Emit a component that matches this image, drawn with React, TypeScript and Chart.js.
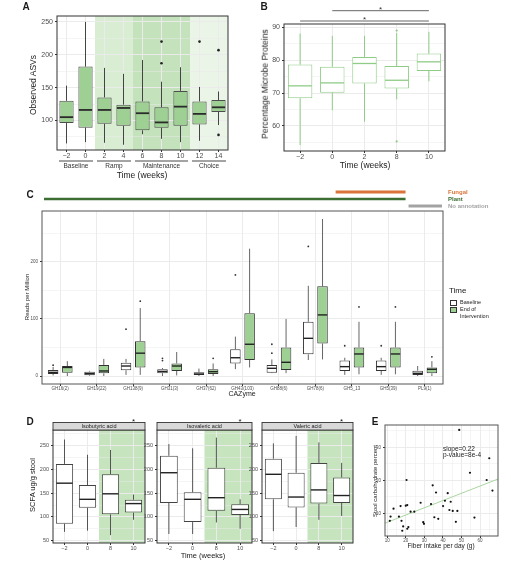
import React, { useEffect, useRef } from 'react';
import { Chart, registerables } from 'chart.js';
Chart.register(...registerables);

const FONT = "'Liberation Sans', 'DejaVu Sans', Arial, sans-serif";

// ---------------- Panel A: Observed ASVs ----------------
const weeksA = ['−2', '0', '2', '4', '6', '8', '10', '12', '14'];
const asvMin = [65, 67, 66, 63, 79, 72, 67, 69, 93];
const asvQ1 = [96, 89, 95, 92, 85, 89, 92, 94, 113];
const asvMed = [105, 116, 116, 119, 111, 97, 121, 110, 120];
const asvQ3 = [130, 182, 135, 124, 129, 120, 145, 129, 131];
const asvMax = [153, 250, 180, 171, 192, 159, 181, 151, 144];
const asvOut = [[], [], [], [], [], [220, 187], [], [220], [207, 78]];
const asvTicks = [75, 100, 125, 150, 175, 200, 225, 250];
const phaseNames = ['Baseline', 'Ramp', 'Maintenance', 'Choice'];
const phaseStart = [0, 2, 4, 7];
const phaseEnd = [1, 3, 6, 8];
const phaseFill = ['rgba(0,0,0,0)', '#d9edd3', '#c4e2bc', '#eaf5e7'];

// ---------------- Panel B: Percentage microbe proteins ----------------
const weeksB = ['−2', '0', '2', '8', '10'];
const protMin = [54.2, 64.8, 61.3, 68.1, 73.6];
const protQ1 = [68.4, 70.1, 72.9, 71.4, 76.7];
const protMed = [72.2, 73.1, 79.0, 73.9, 79.5];
const protQ3 = [78.7, 78.0, 81.0, 78.2, 82.0];
const protMax = [88.1, 87.4, 87.4, 88.3, 88.6];
const protOut = [[], [], [], [89.0, 55.3], []];
const protTicks = [55, 60, 65, 70, 75, 80, 85, 90];
const sigFrom = [1, 0];
const sigTo = [4, 4];

// ---------------- Panel C: CAZymes ----------------
const cazymes = ['GH16(2)', 'GH19(22)', 'GH138(9)', 'GH31(3)', 'GH37(62)', 'GH43(103)', 'GH88(6)', 'GH78(6)', 'GH5_13', 'GH5(39)', 'PL9(1)'];
const baseMin = [1, 0, 2, 0, 0, 12, 5, 28, 2, 2, 0];
const baseQ1 = [3.5, 1.2, 10, 5, 1.7, 22, 5.8, 38, 8.8, 8.8, 1.8];
const baseMed = [6.4, 4, 17.5, 8, 3.5, 32, 13.5, 66, 16.4, 16.4, 4.7];
const baseQ3 = [10.5, 7.6, 23.4, 12, 6.4, 47, 19.3, 95, 27, 27, 9.4];
const baseMax = [16, 9, 30, 14, 13, 69, 29, 158, 32, 32, 17.5];
const baseOut = [[19], [], [82], [31, 27], [], [177], [55.6, 40], [227], [53], [53], []];
const endMin = [0, 0, 2, 1, 0, 15, 5, 29, 3, 3, 0];
const endQ1 = [5.8, 4.7, 15, 8.8, 3.5, 28, 10.5, 57, 15, 15, 4.7];
const endMed = [15, 8.8, 40, 17.5, 7.6, 55.6, 24, 107, 38.6, 38.6, 11.7];
const endQ3 = [17.5, 19.3, 61, 22, 11.7, 110, 50, 157, 50, 50, 15];
const endMax = [26, 30, 119, 42, 22, 223, 100, 275, 95, 95, 26];
const endOut = [[], [], [131], [], [31], [], [], [], [121], [121], [33.6]];
const readTicks = [0, 50, 100, 150, 200, 250];
const annotNames = ['Fungal', 'Plant', 'No annotation'];
const annotStart = [8, 0, 10];
const annotEnd = [9, 9, 10];
const annotColor = ['#d9753a', '#3c6e33', '#a3a3a3'];

// ---------------- Panel D: SCFA ----------------
const scfaWeeks = ['−2', '0', '8', '10'];
const acidNames = ['Isobutyric acid', 'Isovaleric acid', 'Valeric acid'];
const isobutMin = [68.5, 71, 61.6, 94];
const isobutQ1 = [85.6, 119, 105.5, 109];
const isobutMed = [171, 137, 148.6, 128];
const isobutQ3 = [211.6, 167, 189.7, 136];
const isobutMax = [263, 230.8, 241, 147];
const isovalMin = [64, 64, 88.3, 75];
const isovalQ1 = [129.4, 89, 113, 104];
const isovalMed = [193, 137, 140.4, 115.7];
const isovalQ3 = [228.8, 152, 203.4, 126.7];
const isovalMax = [253.4, 244.5, 267, 137];
const valerMin = [70, 78.7, 93.8, 102];
const valerQ1 = [137, 120, 128, 129.4];
const valerMed = [189.7, 141.8, 156.8, 145];
const valerQ3 = [222.6, 193, 213.7, 183];
const valerMax = [254.8, 270.6, 256.9, 213.7];
const scfaTicks = [50, 75, 100, 125, 150, 175, 200, 225, 250, 275];
const scfaStar = ['*', '*', '*'];

// ---------------- Panel E: fiber vs stool carbohydrate ----------------
const fiberIntake = [48.8, 20.4, 54.6, 65, 63.6, 66.7, 34.5, 36.3, 42.6, 41.1, 44.2, 40.1, 33.6, 28, 13.4, 17.2, 20.8, 20, 22.6, 24.6, 11.8, 11.4, 16.3, 17.7, 18.6, 18.1, 20.8, 21.4, 29.4, 29.8, 35.4, 37.5, 43.5, 45.3, 47.8, 47, 57];
const stoolCarb = [35.3, 20.1, 22.3, 26.7, 20.1, 16.9, 18.5, 16.3, 16.1, 13.8, 13.5, 12.2, 12.8, 13.2, 11.4, 12.2, 12.5, 12.3, 10.5, 10.5, 9, 7.7, 9, 7.7, 6, 4.7, 5.3, 5.8, 7.3, 6.8, 8.8, 8.3, 11, 10.7, 10.7, 7.4, 8.7];
const fitX = [8.8, 69.7];
const fitY = [7.0, 20.4];
const carbTicks = [5, 10, 15, 20, 25, 30, 35];
const fiberTicks = [10, 15, 20, 25, 30, 35, 40, 45, 50, 55, 60, 65];

// ---------------- styles ----------------
const GREEN = '#9dd092';
const GRID = '#ebebeb';
const TICKC = '#4d4d4d';

function yLin(min: number, max: number, ticks: number[], isMajor: (v: number) => boolean, width: number, fs: number) {
  return {
    type: 'linear', position: 'left', min, max,
    afterBuildTicks: (s: any) => { s.ticks = ticks.map((v) => ({ value: v })); },
    afterFit: (s: any) => { s.width = width; s.paddingTop = 0; s.paddingBottom = 0; },
    ticks: { autoSkip: false, padding: 2, color: TICKC, font: { family: FONT, size: fs }, callback: (v: any) => (isMajor(Number(v)) ? String(v) : '') },
    grid: {
      color: GRID,
      lineWidth: (c: any) => (c.tick && !isMajor(c.tick.value) ? 0.5 : 1),
      tickLength: 2,
      tickColor: (c: any) => (c.tick && !isMajor(c.tick.value) ? 'rgba(0,0,0,0)' : '#333'),
    },
    border: { display: false },
  };
}

function xLin(min: number, max: number, ticks: number[], isMajor: (v: number) => boolean, height: number, fs: number) {
  return {
    type: 'linear', position: 'bottom', min, max,
    afterBuildTicks: (s: any) => { s.ticks = ticks.map((v) => ({ value: v })); },
    afterFit: (s: any) => { s.height = height; s.paddingLeft = 0; s.paddingRight = 0; },
    ticks: { autoSkip: false, maxRotation: 0, minRotation: 0, padding: 0, color: TICKC, font: { family: FONT, size: fs }, callback: (v: any) => (isMajor(Number(v)) ? String(v) : '') },
    grid: {
      color: GRID,
      lineWidth: (c: any) => (c.tick && !isMajor(c.tick.value) ? 0.5 : 1),
      tickLength: 2,
      tickColor: (c: any) => (c.tick && !isMajor(c.tick.value) ? 'rgba(0,0,0,0)' : '#333'),
    },
    border: { display: false },
  };
}

function xCat(height: number, fs: number) {
  return {
    type: 'category', offset: true,
    afterFit: (s: any) => { s.height = height; s.paddingLeft = 0; s.paddingRight = 0; },
    ticks: { autoSkip: false, maxRotation: 0, minRotation: 0, padding: 0, color: TICKC, font: { family: FONT, size: fs } },
    grid: { offset: false, color: GRID, lineWidth: 1, tickLength: 2, tickColor: '#333' },
    border: { display: false },
  };
}

function baseOptions(padding: any, x: any, y: any) {
  return {
    responsive: false,
    animation: false,
    events: [],
    layout: { padding },
    plugins: { legend: { display: false }, tooltip: { enabled: false } },
    scales: { x, y },
  };
}

type BoxSet = {
  ds: number; min: number[]; q1: number[]; med: number[]; q3: number[]; max: number[]; out: number[][];
  line: string; lw: number; medColor: string; medW: number; outColor: string; outR: number;
};

function whiskerPlugin(sets: BoxSet[]) {
  return {
    id: 'whiskers',
    afterDatasetsDraw(chart: any) {
      const ys = chart.scales.y;
      const ctx = chart.ctx;
      ctx.save();
      for (const s of sets) {
        const meta = chart.getDatasetMeta(s.ds);
        meta.data.forEach((el: any, i: number) => {
          const x = el.x;
          const w = el.width;
          ctx.strokeStyle = s.line;
          ctx.lineWidth = s.lw;
          ctx.beginPath();
          ctx.moveTo(x, ys.getPixelForValue(s.q3[i]));
          ctx.lineTo(x, ys.getPixelForValue(s.max[i]));
          ctx.moveTo(x, ys.getPixelForValue(s.q1[i]));
          ctx.lineTo(x, ys.getPixelForValue(s.min[i]));
          ctx.stroke();
          const ym = ys.getPixelForValue(s.med[i]);
          ctx.strokeStyle = s.medColor;
          ctx.lineWidth = s.medW;
          ctx.beginPath();
          ctx.moveTo(x - w / 2 + 0.5, ym);
          ctx.lineTo(x + w / 2 - 0.5, ym);
          ctx.stroke();
          ctx.fillStyle = s.outColor;
          for (const v of s.out[i] || []) {
            ctx.beginPath();
            ctx.arc(x, ys.getPixelForValue(v), s.outR, 0, Math.PI * 2);
            ctx.fill();
          }
        });
      }
      ctx.restore();
    },
  };
}

function framePlugin(color = '#333', width = 1) {
  return {
    id: 'frame',
    afterDraw(chart: any) {
      const { left, top, right, bottom } = chart.chartArea;
      const ctx = chart.ctx;
      ctx.save();
      ctx.strokeStyle = color;
      ctx.lineWidth = width;
      ctx.strokeRect(left, top, right - left, bottom - top);
      ctx.restore();
    },
  };
}

function bandPlugin(starts: number[], ends: number[], fills: string[]) {
  return {
    id: 'bands',
    beforeDraw(chart: any) {
      const xs = chart.scales.x;
      const { top, bottom } = chart.chartArea;
      const ctx = chart.ctx;
      ctx.save();
      starts.forEach((s, k) => {
        const x1 = xs.getPixelForValue(s - 0.5);
        const x2 = xs.getPixelForValue(ends[k] + 0.5);
        ctx.fillStyle = fills[k];
        ctx.fillRect(x1, top, x2 - x1, bottom - top);
      });
      ctx.restore();
    },
  };
}

function phasePlugin() {
  return {
    id: 'phases',
    afterDraw(chart: any) {
      const xs = chart.scales.x;
      const b = chart.chartArea.bottom;
      const ctx = chart.ctx;
      ctx.save();
      ctx.strokeStyle = '#333';
      ctx.lineWidth = 0.9;
      ctx.fillStyle = '#333';
      ctx.font = `6.5px ${FONT}`;
      ctx.textAlign = 'center';
      ctx.textBaseline = 'middle';
      phaseNames.forEach((name, k) => {
        const x1 = xs.getPixelForValue(phaseStart[k] - 0.5) + 2;
        const x2 = xs.getPixelForValue(phaseEnd[k] + 0.5) - 2;
        ctx.beginPath();
        ctx.moveTo(x1, b + 11);
        ctx.lineTo(x2, b + 11);
        ctx.stroke();
        ctx.fillText(name, (x1 + x2) / 2, b + 16.5);
      });
      ctx.restore();
    },
  };
}

function sigPlugin() {
  const lifts = [13.3, 3];
  return {
    id: 'sig',
    afterDraw(chart: any) {
      const xs = chart.scales.x;
      const top = chart.chartArea.top;
      const ctx = chart.ctx;
      ctx.save();
      ctx.strokeStyle = '#666';
      ctx.lineWidth = 1;
      ctx.fillStyle = '#333';
      ctx.font = `8px ${FONT}`;
      ctx.textAlign = 'center';
      ctx.textBaseline = 'alphabetic';
      sigFrom.forEach((f, k) => {
        const x1 = xs.getPixelForValue(f);
        const x2 = xs.getPixelForValue(sigTo[k]);
        const y = top - lifts[k];
        ctx.beginPath();
        ctx.moveTo(x1, y);
        ctx.lineTo(x2, y);
        ctx.stroke();
        ctx.fillText('*', (x1 + x2) / 2, y + 1);
      });
      ctx.restore();
    },
  };
}

function annotPlugin() {
  const lifts = [19, 12, 5];
  const widths = [3, 2.5, 3];
  return {
    id: 'annot',
    afterDraw(chart: any) {
      const xs = chart.scales.x;
      const top = chart.chartArea.top;
      const ctx = chart.ctx;
      ctx.save();
      annotNames.forEach((_n, k) => {
        const x1 = xs.getPixelForValue(annotStart[k] - 0.5) + 2;
        const x2 = xs.getPixelForValue(annotEnd[k] + 0.5) - 1;
        ctx.strokeStyle = annotColor[k];
        ctx.lineWidth = widths[k];
        ctx.beginPath();
        ctx.moveTo(x1, top - lifts[k]);
        ctx.lineTo(x2, top - lifts[k]);
        ctx.stroke();
      });
      ctx.restore();
    },
  };
}

function stripPlugin(label: string, star: string) {
  return {
    id: 'strip',
    afterDraw(chart: any) {
      const { left, right, top } = chart.chartArea;
      const xs = chart.scales.x;
      const ctx = chart.ctx;
      const h = 7.5;
      ctx.save();
      ctx.fillStyle = '#d9d9d9';
      ctx.fillRect(left, top - h, right - left, h);
      ctx.strokeStyle = '#333';
      ctx.lineWidth = 0.9;
      ctx.strokeRect(left, top - h, right - left, h);
      ctx.fillStyle = '#1a1a1a';
      ctx.font = `5.5px ${FONT}`;
      ctx.textAlign = 'center';
      ctx.textBaseline = 'middle';
      ctx.fillText(label, (left + right) / 2, top - h / 2);
      ctx.font = `8px ${FONT}`;
      ctx.textBaseline = 'alphabetic';
      ctx.fillText(star, xs.getPixelForValue(scfaWeeks.length - 1), top - h + 1.9);
      ctx.restore();
    },
  };
}

// ---------------- chart configs ----------------
function configA() {
  return {
    type: 'bar',
    data: {
      labels: weeksA,
      datasets: [{
        data: asvQ1.map((v, i) => [v, asvQ3[i]]),
        backgroundColor: GREEN, borderColor: '#4d4d4d', borderWidth: 1, borderSkipped: false,
        categoryPercentage: 1, barPercentage: 0.75,
      }],
    },
    options: baseOptions({ top: 16, right: 22, left: 0, bottom: 0 }, xCat(35, 7), yLin(55, 259, asvTicks, (v) => v % 50 === 0, 47, 7)),
    plugins: [
      bandPlugin(phaseStart, phaseEnd, phaseFill),
      whiskerPlugin([{ ds: 0, min: asvMin, q1: asvQ1, med: asvMed, q3: asvQ3, max: asvMax, out: asvOut, line: '#444', lw: 1, medColor: '#2b2b2b', medW: 1.8, outColor: '#222', outR: 1.3 }]),
      framePlugin('#333', 1),
      phasePlugin(),
    ],
  };
}

function configB() {
  const G = '#8fcc86';
  return {
    type: 'bar',
    data: {
      labels: weeksB,
      datasets: [{
        data: protQ1.map((v, i) => [v, protQ3[i]]),
        backgroundColor: '#ffffff', borderColor: G, borderWidth: 1, borderSkipped: false,
        categoryPercentage: 1, barPercentage: 0.76,
      }],
    },
    options: baseOptions({ top: 24, right: 66, left: 0, bottom: 0 }, xCat(19, 7), yLin(52.4, 91, protTicks, (v) => v % 10 === 0, 29, 7)),
    plugins: [
      whiskerPlugin([{ ds: 0, min: protMin, q1: protQ1, med: protMed, q3: protQ3, max: protMax, out: protOut, line: G, lw: 1, medColor: G, medW: 1.3, outColor: G, outR: 1.1 }]),
      framePlugin('#333', 1),
      sigPlugin(),
    ],
  };
}

function configC() {
  return {
    type: 'bar',
    data: {
      labels: cazymes,
      datasets: [
        { data: baseQ1.map((v, i) => [v, baseQ3[i]]), backgroundColor: '#ffffff', borderColor: '#333', borderWidth: 1, borderSkipped: false, categoryPercentage: 0.78, barPercentage: 0.74 },
        { data: endQ1.map((v, i) => [v, endQ3[i]]), backgroundColor: GREEN, borderColor: '#333', borderWidth: 1, borderSkipped: false, categoryPercentage: 0.78, barPercentage: 0.74 },
      ],
    },
    options: baseOptions({ top: 26, right: 68, left: 0, bottom: 0 }, xCat(26, 4.5), yLin(-14, 289, readTicks, (v) => v % 100 === 0, 42, 4.5)),
    plugins: [
      whiskerPlugin([
        { ds: 0, min: baseMin, q1: baseQ1, med: baseMed, q3: baseQ3, max: baseMax, out: baseOut, line: '#555', lw: 0.9, medColor: '#222', medW: 1.4, outColor: '#333', outR: 0.9 },
        { ds: 1, min: endMin, q1: endQ1, med: endMed, q3: endQ3, max: endMax, out: endOut, line: '#555', lw: 0.9, medColor: '#222', medW: 1.4, outColor: '#333', outR: 0.9 },
      ]),
      framePlugin('#555', 1),
      annotPlugin(),
    ],
  };
}

function configD(k: number, mn: number[], q1: number[], md: number[], q3: number[], mx: number[], yw: number) {
  return {
    type: 'bar',
    data: {
      labels: scfaWeeks,
      datasets: [{
        data: q1.map((v, i) => [v, q3[i]]),
        backgroundColor: '#ffffff', borderColor: '#444', borderWidth: 1, borderSkipped: false,
        categoryPercentage: 1, barPercentage: 0.75,
      }],
    },
    options: baseOptions({ top: 20, right: 2, left: 0, bottom: 0 }, xCat(21, 5.5), yLin(45, 283, scfaTicks, (v) => v % 50 === 0, yw, 5.5)),
    plugins: [
      bandPlugin([2], [3], ['#c6e4be']),
      whiskerPlugin([{ ds: 0, min: mn, q1, med: md, q3, max: mx, out: [[], [], [], []], line: '#444', lw: 0.9, medColor: '#222', medW: 1.4, outColor: '#222', outR: 1 }]),
      framePlugin('#333', 1),
      stripPlugin(acidNames[k], scfaStar[k]),
    ],
  };
}

function configE() {
  return {
    type: 'scatter',
    data: {
      datasets: [
        { data: fiberIntake.map((x, i) => ({ x, y: stoolCarb[i] })), backgroundColor: '#111', borderWidth: 0, pointRadius: 1.1 },
        { type: 'line', data: fitX.map((x, i) => ({ x, y: fitY[i] })), borderColor: '#a9d6a0', borderWidth: 1, pointRadius: 0, fill: false },
      ],
    },
    options: baseOptions({ top: 10, right: 13, left: 0, bottom: 0 }, xLin(8.8, 69.7, fiberTicks, (v) => v % 10 === 0, 28, 4.5), yLin(3.1, 36.8, carbTicks, (v) => v % 10 === 0, 13, 4.5)),
    plugins: [framePlugin('#555', 1)],
  };
}

// ---------------- components ----------------
function ChartBox({ left, top, width, height, make }: { left: number; top: number; width: number; height: number; make: () => any }) {
  const ref = useRef<HTMLCanvasElement>(null);
  useEffect(() => {
    const chart = new Chart(ref.current as HTMLCanvasElement, make());
    return () => chart.destroy();
  }, []);
  return <canvas ref={ref} width={width} height={height} style={{ position: 'absolute', left, top, width, height }} />;
}

function Txt({ x, y, text, size, color = '#1a1a1a', bold = false, rotate = false, align = 'center' }: { x: number; y: number; text: string; size: number; color?: string; bold?: boolean; rotate?: boolean; align?: string }) {
  const tx = align === 'left' ? '0' : '-50%';
  return (
    <div
      style={{
        position: 'absolute', left: x, top: y, whiteSpace: 'nowrap', fontFamily: FONT, fontSize: size, lineHeight: 1,
        color, fontWeight: bold ? 700 : 400,
        transform: rotate ? 'translate(-50%,-50%) rotate(-90deg)' : `translate(${tx},-50%)`,
      }}
    >
      {text}
    </div>
  );
}

export default function App() {
  return (
    <div style={{ position: 'absolute', left: 0, top: 0, width: 511, height: 564, background: '#fff', overflow: 'hidden' }}>
      <ChartBox left={10} top={0} width={240} height={185} make={configA} />
      <ChartBox left={255} top={0} width={256} height={170} make={configB} />
      <ChartBox left={0} top={185} width={511} height={225} make={configC} />
      <ChartBox left={38} top={410} width={109} height={154} make={() => configD(0, isobutMin, isobutQ1, isobutMed, isobutQ3, isobutMax, 15)} />
      <ChartBox left={143} top={410} width={111} height={154} make={() => configD(1, isovalMin, isovalQ1, isovalMed, isovalQ3, isovalMax, 14)} />
      <ChartBox left={248} top={410} width={107} height={154} make={() => configD(2, valerMin, valerQ1, valerMed, valerQ3, valerMax, 14)} />
      <ChartBox left={372} top={415} width={139} height={149} make={configE} />

      {/* panel letters */}
      <Txt x={26} y={7} text="A" size={10} bold />
      <Txt x={264} y={7} text="B" size={10} bold />
      <Txt x={30} y={195} text="C" size={10} bold />
      <Txt x={30} y={422} text="D" size={10} bold />
      <Txt x={375} y={422} text="E" size={10} bold />

      {/* A */}
      <Txt x={33} y={85} text="Observed ASVs" size={8.5} rotate />
      <Txt x={142} y={175} text="Time (weeks)" size={8.5} />

      {/* B */}
      <Txt x={265} y={84} text="Percentage Microbe Proteins" size={8.5} rotate />
      <Txt x={365} y={165} text="Time (weeks)" size={8.5} />

      {/* C */}
      <Txt x={27} y={297} text="Reads per Million" size={6} rotate />
      <Txt x={242} y={393} text="CAZyme" size={7} />
      <Txt x={448} y={192} text={annotNames[0]} size={6} color={annotColor[0]} bold align="left" />
      <Txt x={448} y={199} text={annotNames[1]} size={6} color={annotColor[1]} bold align="left" />
      <Txt x={448} y={206} text={annotNames[2]} size={6} color={annotColor[2]} bold align="left" />
      <Txt x={449} y={291} text="Time" size={8} align="left" />
      <div style={{ position: 'absolute', left: 450, top: 300, width: 5, height: 4, border: '0.8px solid #333', background: '#fff' }} />
      <div style={{ position: 'absolute', left: 450, top: 307, width: 5, height: 4, border: '0.8px solid #333', background: GREEN }} />
      <Txt x={460} y={302.5} text="Baseline" size={5.5} align="left" />
      <Txt x={460} y={309.5} text="End of" size={5.5} align="left" />
      <Txt x={460} y={316.5} text="Intervention" size={5.5} align="left" />

      {/* D */}
      <Txt x={33} y={485} text="SCFA ug/g stool" size={7.5} rotate />
      <Txt x={203} y={556} text="Time (weeks)" size={7.5} />

      {/* E */}
      <Txt x={375} y={481} text="Stool carbohydrate percent" size={6} rotate />
      <Txt x={441} y={546} text="Fiber intake per day (g)" size={6.5} />
      <Txt x={443} y={449} text="slope=0.22" size={6.5} align="left" />
      <Txt x={443} y={455} text="p-value=8e-4" size={6.5} align="left" />
    </div>
  );
}
